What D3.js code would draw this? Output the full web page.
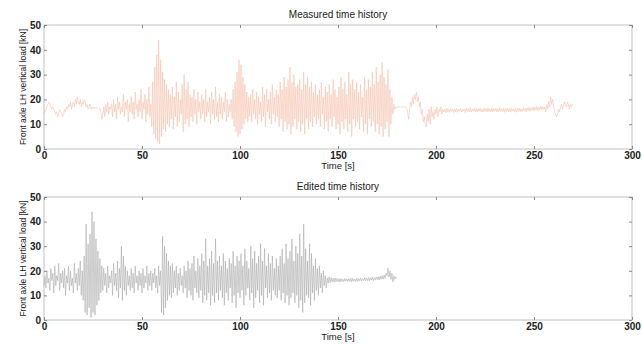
<!DOCTYPE html>
<html>
<head>
<meta charset="utf-8">
<script src="https://cdn.jsdelivr.net/npm/d3@7"></script>
<style>
  body { margin: 0; background: #fff; }
  svg text { font-family: "Liberation Sans", Arial, sans-serif; }
</style>
</head>
<body>
<div id="chart"></div>
<script>
// sampling interval of both records [s]
var dt = 0.5;

var xTicks = [0, 50, 100, 150, 200, 250, 300];
var yTicks = [0, 10, 20, 30, 40, 50];

// measured front axle LH vertical load [kN], 0 - 270 s
var measuredLoad = [
  14,15,16,17,18,19,18,17,16,17,
  16,15,14,15,13,14,16,15,14,13,
  14,16,15,17,16,18,17,19,16,18,
  19,17,20,18,21,19,18,20,17,19,
  18,20,19,17,18,16,17,18,16,17,
  16.5,16.8,16.6,16.4,16.7,16.5,16.6,16.4,15,12,
  14,17,13,18,15,19,14,17,16,18,
  13,20,15,18,12,21,16,19,14,17,
  15,22,13,19,16,20,11,18,15,21,
  14,19,12,23,16,18,13,20,15,24,
  12,19,16,22,11,20,14,25,13,18,
  9,27,6,33,4,38,3,44,2,36,
  5,31,8,28,7,26,10,24,9,22,
  12,25,8,21,13,27,9,23,11,20,
  14,26,7,30,10,24,12,27,9,22,
  13,21,11,24,14,20,10,23,15,19,
  12,22,14,20,11,24,13,19,15,21,
  10,23,14,20,12,25,13,19,11,22,
  14,21,12,19,15,23,11,20,13,18,
  15,20,12,24,9,27,7,31,5,36,
  6,34,8,29,10,26,12,23,11,21,
  13,22,11,24,14,20,12,23,10,21,
  14,19,11,25,13,22,9,24,15,20,
  12,23,10,26,14,21,11,24,13,22,
  9,27,12,24,7,29,11,25,8,28,
  10,33,6,27,9,30,12,25,8,26,
  11,28,7,24,10,31,6,26,12,29,
  8,25,11,27,9,23,13,26,10,22,
  12,24,9,27,14,21,8,25,11,23,
  7,26,12,22,9,28,13,24,8,21,
  10,25,6,29,11,24,8,27,12,22,
  7,31,10,26,5,28,12,24,9,27,
  11,23,8,26,13,21,7,29,10,24,
  6,28,12,25,9,31,11,26,7,33,
  10,27,6,30,9,35,5,29,8,26,
  11,32,5,24,10,21,14,18,16,17,
  16.8,17,16.9,17.1,16.9,17,16.8,17.1,16.9,17,
  16.5,15,12,16,19,17,21,18,22,20,
  23,19,21,17,19,14,16,11,13,10,
  9,14,11,16,10,17,13,15,12,16,
  14,17,13,16,15,17,14,16,15,16,
  14.5,16.5,15,16,14.8,16.3,15.2,16,14.7,16.2,
  15,16.3,14.8,16.1,15.2,16.4,14.9,16,15.3,16.2,
  14.7,16.5,15.1,16.2,15,16.6,14.9,16.1,15.4,16.3,
  15,16.4,14.8,16.2,15.3,16.5,15,16.1,14.9,16.4,
  15.2,16.3,14.9,16.6,15.1,16.2,15,16.4,14.8,16.3,
  15.3,16.5,15,16.2,14.9,16.6,15.2,16.1,15,16.4,
  14.8,16.3,15.2,16.5,15,16.2,14.9,16.6,15.3,16.1,
  15,16.4,14.8,16.3,15.2,16.5,15,16.2,15.1,16.7,
  15.3,16.4,15,16.6,15.4,16.8,15.2,16.5,15.6,17,
  15.4,16.8,15.7,17.2,15.5,16.9,15.8,17.3,15.9,17.1,
  16,17,15,18,16,19,17,21,18,20,
  17,15,14,13,14,16,15,17,18,16,
  17,19,18,17,19,18,16,18,17,18,
  18
];

// edited front axle LH vertical load [kN], 0 - 180 s
var editedLoad = [
  14,18,13,20,15,17,12,21,16,19,
  11,22,14,18,16,23,12,19,15,20,
  13,21,10,18,15,22,12,20,14,17,
  11,23,15,19,12,21,14,24,10,20,
  8,26,3,39,2,31,5,35,1,44,
  3,40,2,33,6,28,8,25,11,22,
  12,21,14,19,11,22,13,18,15,20,
  10,23,14,19,12,24,9,21,13,30,
  8,26,12,22,10,20,14,18,12,21,
  13,19,11,22,15,18,12,20,14,19,
  11,21,13,18,15,22,12,19,14,20,
  12,19,15,21,13,18,11,22,14,20,
  3,34,2,30,5,27,8,24,10,22,
  9,23,11,20,13,22,10,19,12,21,
  14,18,11,22,13,20,9,24,12,21,
  10,23,8,26,13,20,11,25,9,22,
  12,27,7,24,10,33,8,22,11,25,
  6,28,10,23,7,33,11,24,8,26,
  12,22,9,27,6,24,11,21,8,25,
  13,23,7,28,10,22,5,26,11,24,
  9,27,12,22,6,29,10,24,13,21,
  8,30,11,25,5,28,9,23,12,26,
  7,31,10,24,6,29,13,22,9,27,
  11,23,8,26,12,21,10,25,9,22,
  12,26,8,29,11,23,7,31,10,25,
  6,28,9,33,11,24,7,30,10,27,
  5,35,8,26,3,39,7,29,10,24,
  9,31,6,27,11,22,8,25,12,21,
  10,22,13,19,11,20,14,18,13,17,
  15,17.5,15.2,17.2,15.5,17,15.4,17.1,15.6,16.9,
  15.6,16.8,15.4,16.9,15.7,16.6,15.5,16.9,15.8,16.7,
  15.6,16.8,15.7,17,15.5,16.9,15.8,16.7,15.6,17,
  15.7,16.9,15.9,17.1,15.8,16.8,16,17.2,15.9,17,
  16,17.3,15.9,17.1,16.2,17.4,16,17.2,16.3,17.5,
  16.4,17.6,16.2,17.8,16.5,18,16.6,18.3,17,19,
  18,21,17.5,20,16.5,19,15.5,18,16.5,17.5,
  17
];

var W = 642, H = 344;
var svg = d3.select("#chart").append("svg")
  .attr("width", W).attr("height", H);

var x = d3.scaleLinear().domain([0, 300]).range([44, 632]);

function panel(top, bottom, title, values, colour) {
  var y = d3.scaleLinear().domain([0, 50]).range([bottom, top]);
  var g = svg.append("g");

  // box
  g.append("rect")
    .attr("x", x(0)).attr("y", top)
    .attr("width", x(300) - x(0)).attr("height", bottom - top)
    .attr("fill", "none").attr("stroke", "#c0c0c0").attr("stroke-width", 1);

  var line = d3.line()
    .x(function(d, i) { return x(i * dt); })
    .y(function(d) { return y(d); });

  g.append("path")
    .datum(values)
    .attr("d", line)
    .attr("fill", "none")
    .attr("stroke", colour)
    .attr("stroke-width", 0.55);

  // axes, ticks pointing inward
  var xb = g.append("g").attr("transform", "translate(0," + bottom + ")")
    .call(d3.axisBottom(x).tickValues(xTicks).tickSize(-3).tickPadding(3));
  var xt = g.append("g").attr("transform", "translate(0," + top + ")")
    .call(d3.axisTop(x).tickValues(xTicks).tickSize(-3).tickFormat(""));
  var yl = g.append("g").attr("transform", "translate(" + x(0) + ",0)")
    .call(d3.axisLeft(y).tickValues(yTicks).tickSize(-3).tickPadding(3));
  var yr = g.append("g").attr("transform", "translate(" + x(300) + ",0)")
    .call(d3.axisRight(y).tickValues(yTicks).tickSize(-3).tickFormat(""));

  [xb, xt, yl, yr].forEach(function(a) {
    a.select(".domain").remove();
    a.selectAll("line").attr("stroke", "#888");
    a.selectAll("text").attr("fill", "#222").style("font-size", "10px")
      .style("font-weight", "bold");
  });

  g.append("text")
    .attr("x", (x(0) + x(300)) / 2).attr("y", top - 7)
    .attr("text-anchor", "middle")
    .style("font-size", "10px").attr("fill", "#1a1a1a")
    .text(title);

  g.append("text")
    .attr("x", (x(0) + x(300)) / 2).attr("y", bottom + 20)
    .attr("text-anchor", "middle")
    .style("font-size", "9.5px").attr("fill", "#1a1a1a")
    .text("Time [s]");

  g.append("text")
    .attr("transform", "translate(26," + (top + bottom) / 2 + ") rotate(-90)")
    .attr("text-anchor", "middle")
    .style("font-size", "8.5px").attr("fill", "#1a1a1a")
    .text("Front axle LH vertical load [kN]");
}

panel(25, 149, "Measured time history", measuredLoad, "#f4bca6");
panel(197, 320, "Edited time history", editedLoad, "#a6a6a6");
</script>
</body>
</html>
